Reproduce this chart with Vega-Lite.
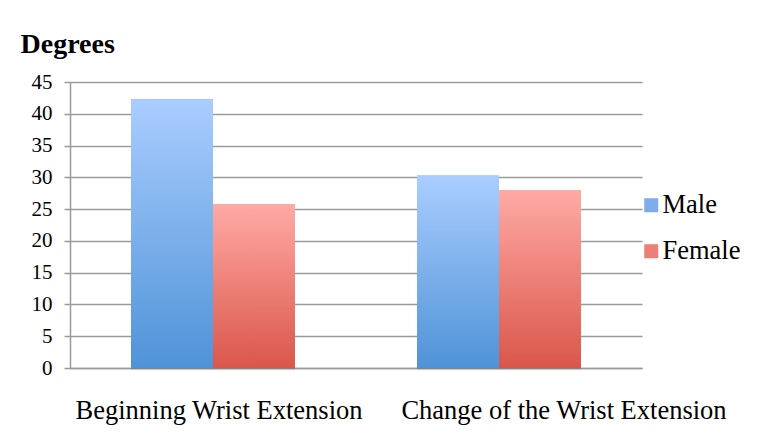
{
  "$schema": "https://vega.github.io/schema/vega-lite/v6.json",
  "width": 572,
  "height": 286,
  "autosize": {"type": "none"},
  "padding": {"left": 70, "top": 82, "right": 125, "bottom": 70},
  "background": "white",
  "data": {
    "values": [
      {"measure": "Beginning Wrist Extension", "sex": "Male", "degrees": 42.3},
      {"measure": "Beginning Wrist Extension", "sex": "Female", "degrees": 25.8},
      {"measure": "Change of the Wrist Extension", "sex": "Male", "degrees": 30.3},
      {"measure": "Change of the Wrist Extension", "sex": "Female", "degrees": 28.0}
    ]
  },
  "encoding": {
    "x": {
      "field": "measure",
      "type": "nominal",
      "sort": null,
      "scale": {"paddingInner": 0.4266, "paddingOuter": 0.2133},
      "axis": {
        "title": null,
        "labelAngle": 0,
        "labelFont": "Liberation Serif",
        "labelFontSize": 26.5,
        "labelColor": "#000000",
        "labelBaseline": "alphabetic",
        "labelPadding": 50,
        "labelLimit": 0,
        "labelOverlap": false,
        "labelOffset": {
          "condition": {"test": "datum.value === 'Change of the Wrist Extension'", "value": 65},
          "value": 6
        },
        "ticks": false,
        "domain": true,
        "domainColor": "#9a9a9a",
        "domainWidth": 1.5
      }
    },
    "xOffset": {
      "field": "sex",
      "type": "nominal",
      "sort": ["Male", "Female"],
      "scale": {"paddingInner": 0, "paddingOuter": 0}
    },
    "y": {
      "field": "degrees",
      "type": "quantitative",
      "scale": {"domain": [0, 45], "nice": false, "zero": true},
      "axis": {
        "values": [0, 5, 10, 15, 20, 25, 30, 35, 40, 45],
        "title": "Degrees",
        "titleAngle": 0,
        "titleAlign": "left",
        "titleBaseline": "alphabetic",
        "titleX": -50,
        "titleY": -30,
        "titleFont": "Liberation Serif",
        "titleFontWeight": "bold",
        "titleFontSize": 28,
        "titleColor": "#000000",
        "labelFont": "Liberation Serif",
        "labelFontSize": 21,
        "labelColor": "#000000",
        "labelPadding": 12,
        "tickSize": 6,
        "tickColor": "#9a9a9a",
        "tickWidth": 1.5,
        "domainColor": "#9a9a9a",
        "domainWidth": 1.5,
        "grid": true,
        "gridColor": "#9a9a9a",
        "gridWidth": 1.5
      }
    }
  },
  "layer": [
    {
      "mark": {"type": "bar", "stroke": null, "color": "#000000", "opacity": 0.05, "xOffset": 3.5, "yOffset": 2.5}
    },
    {
      "mark": {"type": "bar", "stroke": null, "color": "#000000", "opacity": 0.1, "xOffset": 1.5, "yOffset": 1}
    },
    {
      "mark": {"type": "bar", "stroke": null},
      "encoding": {
        "color": {
          "field": "sex",
          "type": "nominal",
          "sort": ["Male", "Female"],
          "scale": {"domain": ["Male", "Female"], "range": ["#7daeea", "#ec7f78"]},
          "legend": {
            "title": null,
            "orient": "none",
            "legendX": 568,
            "legendY": 110,
            "padding": 0,
            "symbolType": "square",
            "symbolSize": 196,
            "symbolStrokeWidth": 0,
            "symbolOpacity": 1,
            "labelFont": "Liberation Serif",
            "labelFontSize": 26.5,
            "labelColor": "#000000",
            "labelOffset": -2,
            "rowPadding": 19,
            "encode": {
              "labels": {
                "update": {"dy": {"value": 3}}
              }
            }
          }
        }
      }
    },
    {
      "transform": [{"filter": "datum.sex === 'Male'"}],
      "mark": {
        "type": "bar",
        "stroke": null,
        "color": {
          "gradient": "linear",
          "x1": 0, "y1": 0, "x2": 0, "y2": 1,
          "stops": [
            {"offset": 0, "color": "#aacdff"},
            {"offset": 1, "color": "#4f93d7"}
          ]
        }
      }
    },
    {
      "transform": [{"filter": "datum.sex === 'Female'"}],
      "mark": {
        "type": "bar",
        "stroke": null,
        "color": {
          "gradient": "linear",
          "x1": 0, "y1": 0, "x2": 0, "y2": 1,
          "stops": [
            {"offset": 0, "color": "#ffaaa5"},
            {"offset": 1, "color": "#da564a"}
          ]
        }
      }
    }
  ],
  "config": {
    "font": "Liberation Serif",
    "view": {"stroke": null},
    "axis": {"labelColor": "#000000", "labelFont": "Liberation Serif"}
  }
}
